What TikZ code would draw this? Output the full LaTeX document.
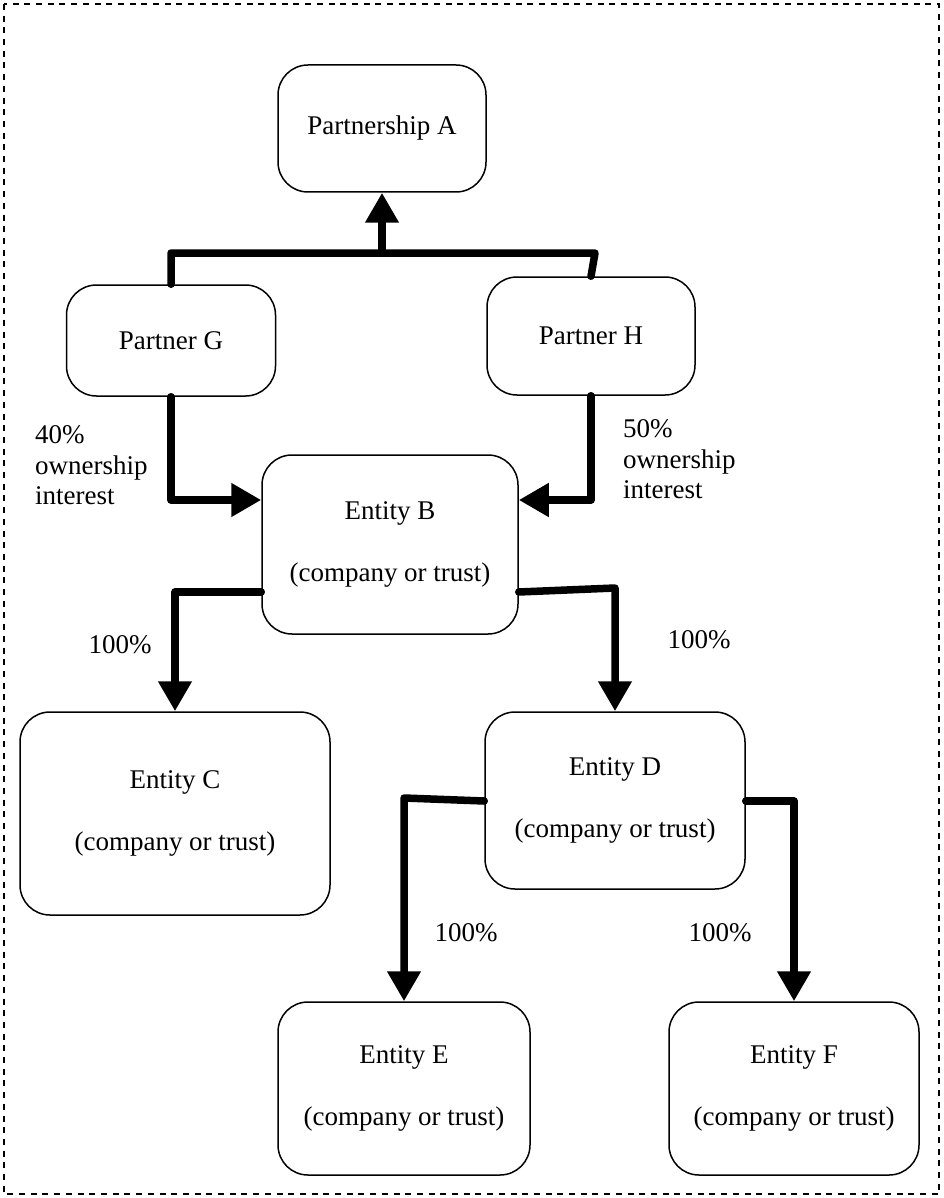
\documentclass[tikz,border=0pt]{standalone}
\usepackage{fontspec}
\setmainfont{Liberation Serif}
\usetikzlibrary{arrows.meta}
\begin{document}
\begin{tikzpicture}[x=1pt,y=-1pt,
  box/.style={draw,line width=1.5pt,rounded corners=30pt,inner sep=0pt,align=center,
    font=\fontsize{27}{31}\selectfont},
  conn/.style={line width=7.5pt,line join=round,line cap=round},
  tip/.style={-{Triangle[width=32pt,length=30pt]}},
  lbl/.style={font=\fontsize{27}{31}\selectfont,inner sep=0pt}]
\useasboundingbox (0,0) rectangle (943,1198);
\draw[line width=1.8pt, dash pattern=on 6pt off 5.7pt] (4,4) rectangle (939,1194);

% boxes
\node[box,minimum width=208pt,minimum height=127pt] (A) at (382,128.5) {Partnership A};
\node[box,minimum width=209pt,minimum height=111pt] (G) at (171,340.5) {Partner G};
\node[box,minimum width=208pt,minimum height=118pt] (H) at (591,336) {Partner H};
\node[box,minimum width=256pt,minimum height=179pt] (B) at (390,544.5) {Entity B\\[31pt](company or trust)};
\node[box,minimum width=310pt,minimum height=203pt] (C) at (175,813.5) {Entity C\\[31pt](company or trust)};
\node[box,minimum width=260pt,minimum height=177pt] (D) at (615,800.5) {Entity D\\[31pt](company or trust)};
\node[box,minimum width=252pt,minimum height=173pt] (E) at (404,1088.5) {Entity E\\[31pt](company or trust)};
\node[box,minimum width=250pt,minimum height=173pt] (F) at (794,1088.5) {Entity F\\[31pt](company or trust)};

% connectors
\coordinate (jn) at (382,253);
\coordinate (jh) at (595,253);
\draw[conn] (G.north) |- (jn) -- (jh) -- (H.north);
\draw[conn,tip] (jn) -- (A.south);
\draw[conn,tip] (G.south) |- (B.west |- 0,500);
\draw[conn,tip] (H.south) |- (B.east |- 0,500);
\draw[conn,tip] (B.west |- 0,592) -| (C.north);
\draw[conn,tip] (B.east |- 0,592) -- (D.north |- 0,588) -- (D.north);
\draw[conn,tip] (D.west |- 0,801) -- (E.north |- 0,798) -- (E.north);
\draw[conn,tip] (D.east |- 0,801) -| (F.north);

% labels
\node[lbl,anchor=base west] (g1) at (35,443) {40\%};
\node[lbl,anchor=base west] (g2) at (35,474) {ownership};
\node[lbl,anchor=base west] (g3) at (35,504) {interest};
\node[lbl,anchor=base west] (h1) at (623,437) {50\%};
\node[lbl,anchor=base west] (h2) at (623,468) {ownership};
\node[lbl,anchor=base west] (h3) at (623,498) {interest};
\node[lbl,anchor=base] (pc) at (120,653) {100\%};
\node[lbl,anchor=base] (pd) at (699,648) {100\%};
\node[lbl,anchor=base] (pe) at (466,941) {100\%};
\node[lbl,anchor=base] (pf) at (720,941) {100\%};
\end{tikzpicture}
\end{document}
